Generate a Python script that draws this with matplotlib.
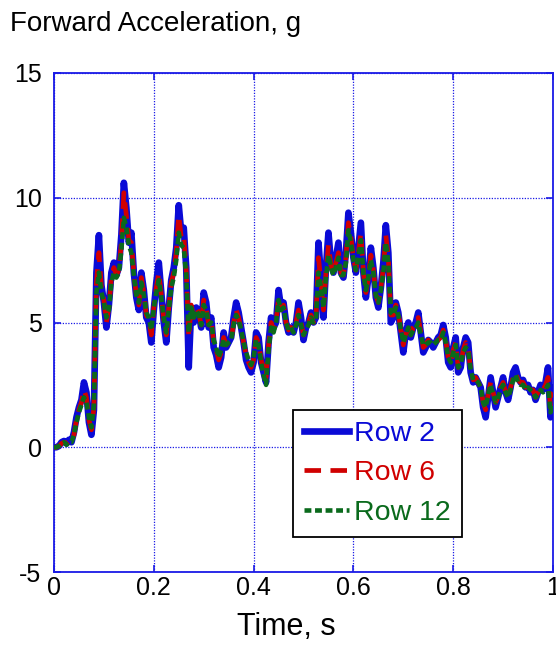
import numpy as np
import matplotlib
matplotlib.use("Agg")
import matplotlib.pyplot as plt

plt.rcParams['font.family'] = ['Liberation Sans', 'DejaVu Sans']

# time grid (s)
time = np.linspace(0.0, 1.0, 201)

row2 = [
    0.0, 0.0, 0.05, 0.2, 0.25, 0.15, 0.3, 0.2, 0.6, 1.2,
    1.6, 1.9, 2.6, 2.2, 1.0, 0.5, 1.5, 7.0, 8.5, 6.5,
    5.8, 4.8, 5.7, 7.0, 7.4, 6.9, 7.2, 8.5, 10.6, 9.6,
    8.2, 8.6, 7.0, 6.0, 5.5, 7.0, 6.3, 5.2, 5.0, 4.2,
    5.5, 6.6, 7.4, 6.2, 5.0, 4.2, 5.6, 6.7, 7.2, 8.0,
    9.7, 8.6, 8.8, 7.2, 3.2, 5.6, 5.0, 5.6, 5.4, 4.8,
    6.2, 5.8, 4.8, 5.2, 4.0, 3.7, 3.2, 3.6, 4.6, 4.0,
    4.2, 4.4, 5.2, 5.8, 5.4, 4.8, 4.2, 3.5, 3.2, 3.0,
    3.4, 4.6, 4.4, 3.4, 3.0, 2.6, 4.2, 5.2, 4.8, 5.0,
    6.3, 5.6, 5.8, 5.0, 4.6, 4.8, 4.6, 5.0, 5.8, 5.2,
    4.3, 4.8, 5.0, 5.4, 5.0, 5.2, 8.2, 6.8, 5.2, 7.2,
    8.6, 7.4, 7.0, 7.6, 8.2, 7.0, 6.8, 7.8, 9.4, 8.6,
    7.6, 7.0, 8.0, 9.0, 7.0, 6.0, 6.8, 8.0, 7.2, 6.0,
    5.6, 6.4, 7.4, 8.9, 7.8, 5.0, 5.2, 5.8, 5.4, 4.6,
    3.8, 4.6, 5.0, 4.4, 4.8, 5.0, 5.4, 4.6, 3.8, 4.0,
    4.3, 4.2, 4.0, 4.2, 4.4, 4.5, 4.9, 4.4, 3.4, 3.2,
    4.0, 4.4, 3.0, 3.2, 4.0, 4.4, 4.2, 3.0, 2.6, 2.8,
    2.6, 2.4, 1.6, 1.2, 2.0, 2.8, 2.2, 1.6, 2.0, 2.4,
    2.8, 2.2, 1.9, 2.4, 3.0, 3.2, 2.8, 2.6, 2.7, 2.4,
    2.5, 2.2, 2.3, 1.9, 2.2, 2.5, 2.3, 2.6, 3.2, 1.2,
    2.4,
]

row6 = [
    0.0, 0.0, 0.05, 0.15, 0.2, 0.15, 0.25, 0.2, 0.5, 1.1,
    1.5, 1.8, 2.3, 2.0, 1.1, 0.7, 1.6, 6.6, 7.8, 6.4,
    5.9, 5.0, 5.6, 6.8, 7.2, 6.9, 7.1, 8.2, 10.2, 9.3,
    8.3, 8.2, 7.0, 6.1, 5.7, 6.8, 6.2, 5.3, 5.1, 4.5,
    5.6, 6.4, 7.0, 6.1, 5.1, 4.5, 5.6, 6.6, 7.0, 7.8,
    9.3, 8.4, 8.5, 7.1, 4.4, 5.7, 5.2, 5.6, 5.4, 4.9,
    5.9, 5.6, 4.9, 5.1, 4.2, 3.9, 3.5, 3.8, 4.4, 4.1,
    4.2, 4.3, 5.0, 5.5, 5.2, 4.7, 4.2, 3.7, 3.4, 3.2,
    3.5, 4.4, 4.2, 3.5, 3.1, 2.8, 4.1, 5.0, 4.7, 5.0,
    6.0, 5.5, 5.7, 5.0, 4.7, 4.8, 4.7, 5.0, 5.5, 5.0,
    4.5, 4.8, 5.0, 5.3, 5.0, 5.2, 7.6, 6.6, 5.5, 7.0,
    8.1, 7.3, 7.0, 7.4, 7.8, 7.0, 6.9, 7.6, 9.0, 8.4,
    7.6, 7.1, 7.8, 8.6, 7.0, 6.2, 6.8, 7.7, 7.1, 6.1,
    5.8, 6.4, 7.2, 8.5, 7.6, 5.3, 5.3, 5.7, 5.4, 4.7,
    4.1, 4.6, 4.9, 4.5, 4.8, 4.9, 5.2, 4.6, 4.0, 4.1,
    4.3, 4.2, 4.1, 4.2, 4.3, 4.4, 4.7, 4.3, 3.6, 3.4,
    3.9, 4.2, 3.2, 3.3, 3.9, 4.2, 4.0, 3.1, 2.7, 2.8,
    2.6, 2.4, 1.8, 1.5, 2.1, 2.6, 2.2, 1.8, 2.0, 2.4,
    2.6, 2.2, 2.0, 2.4, 2.8, 3.0, 2.7, 2.6, 2.6, 2.4,
    2.5, 2.3, 2.3, 2.0, 2.2, 2.4, 2.3, 2.5, 2.8, 1.6,
    2.2,
]

row12 = [
    0.0, 0.0, 0.05, 0.15, 0.2, 0.1, 0.2, 0.2, 0.5, 1.0,
    1.4, 1.7, 2.0, 1.8, 1.2, 0.8, 1.7, 6.2, 7.0, 6.2,
    5.8, 5.2, 5.5, 6.6, 7.0, 6.8, 7.0, 7.9, 9.2, 8.8,
    8.1, 7.8, 6.9, 6.1, 5.8, 6.6, 6.1, 5.4, 5.2, 4.7,
    5.6, 6.2, 6.7, 6.0, 5.2, 4.6, 5.5, 6.4, 6.8, 7.5,
    8.6, 8.1, 8.0, 6.9, 4.6, 5.6, 5.2, 5.5, 5.3, 4.9,
    5.7, 5.5, 4.9, 5.0, 4.3, 4.0, 3.6, 3.9, 4.3, 4.1,
    4.2, 4.3, 4.9, 5.3, 5.1, 4.7, 4.2, 3.8, 3.5, 3.3,
    3.6, 4.3, 4.1, 3.4, 2.9, 2.5, 3.9, 4.8, 4.6, 5.0,
    5.9, 5.5, 5.6, 5.0, 4.7, 4.8, 4.6, 4.9, 5.3, 4.9,
    4.5, 4.7, 4.9, 5.2, 5.0, 5.1, 7.0, 6.4, 5.6, 6.8,
    7.7, 7.2, 6.9, 7.2, 7.6, 6.9, 6.9, 7.4, 8.7, 8.2,
    7.5, 7.1, 7.6, 8.3, 7.0, 6.3, 6.8, 7.5, 7.0, 6.1,
    5.8, 6.3, 7.0, 8.2, 7.4, 5.4, 5.3, 5.6, 5.3, 4.7,
    4.2, 4.5, 4.8, 4.5, 4.7, 4.8, 5.0, 4.5, 4.1, 4.1,
    4.2, 4.2, 4.1, 4.2, 4.3, 4.3, 4.6, 4.2, 3.6, 3.4,
    3.8, 4.1, 3.2, 3.3, 3.8, 4.0, 3.9, 3.1, 2.7, 2.7,
    2.6, 2.4, 1.8, 1.6, 2.1, 2.5, 2.1, 1.8, 2.0, 2.3,
    2.5, 2.2, 2.0, 2.3, 2.7, 2.9, 2.6, 2.5, 2.5, 2.3,
    2.4, 2.3, 2.2, 2.0, 2.1, 2.3, 2.2, 2.3, 2.5, 1.4,
    1.8,
]

series_labels = ["Row 2", "Row 6", "Row 12"]
x_ticks = [0, 0.2, 0.4, 0.6, 0.8, 1]
x_tick_labels = ["0", "0.2", "0.4", "0.6", "0.8", "1"]
y_ticks = [-5, 0, 5, 10, 15]
y_tick_labels = ["-5", "0", "5", "10", "15"]

BLUE = '#0a0ad6'
RED = '#d00000'
GREEN = '#0a6a1c'
AXC = '#1a1ae6'

W, H = 556, 648
fig = plt.figure(figsize=(W / 100, H / 100), dpi=100)
ax = fig.add_axes([54 / W, 1 - 572 / H, 499 / W, 499 / H])

l1, = ax.plot(time, row2, color=BLUE, lw=4.8, zorder=3)
l2, = ax.plot(time, row6, color=RED, lw=3.4, dashes=(3.5, 2.0), zorder=4)
l3, = ax.plot(time, row12, color=GREEN, lw=3.3, dashes=(1.5, 0.8), zorder=5)

ax.set_xlim(0, 1)
ax.set_ylim(-5, 15)
ax.set_xticks(x_ticks)
ax.set_xticklabels(x_tick_labels)
ax.set_yticks(y_ticks)
ax.set_yticklabels(y_tick_labels)

for s in ax.spines.values():
    s.set_color(AXC)
    s.set_linewidth(1.3)

ax.tick_params(direction='in', length=5, width=1.2, color=AXC,
               top=True, right=True, labelsize=18, labelcolor='black')
ax.tick_params(axis='x', pad=3)
ax.tick_params(axis='y', pad=9)
ax.grid(True, color=AXC, linestyle=(0, (1, 1.2)), linewidth=0.9)
ax.set_axisbelow(True)

ax.set_xlabel("Time, s", fontsize=22, labelpad=0)
ax.xaxis.set_label_coords((286 - 54) / 499, -0.08)

fig.text(10 / W, 1 - 24 / H, "Forward Acceleration, g", fontsize=20,
         ha='left', va='center')

leg = ax.legend([l1, l2, l3], series_labels, loc='lower left',
                bbox_to_anchor=(0.479, 0.070), fontsize=20.5,
                frameon=True, fancybox=False, framealpha=1,
                edgecolor='black', handlelength=1.55, handletextpad=0.2,
                labelspacing=0.47, borderpad=0.4, borderaxespad=0)
leg.get_frame().set_linewidth(1.3)
for txt, c in zip(leg.get_texts(), [BLUE, RED, GREEN]):
    txt.set_color(c)
leg.set_zorder(10)

fig.savefig("out.png", dpi=100)
